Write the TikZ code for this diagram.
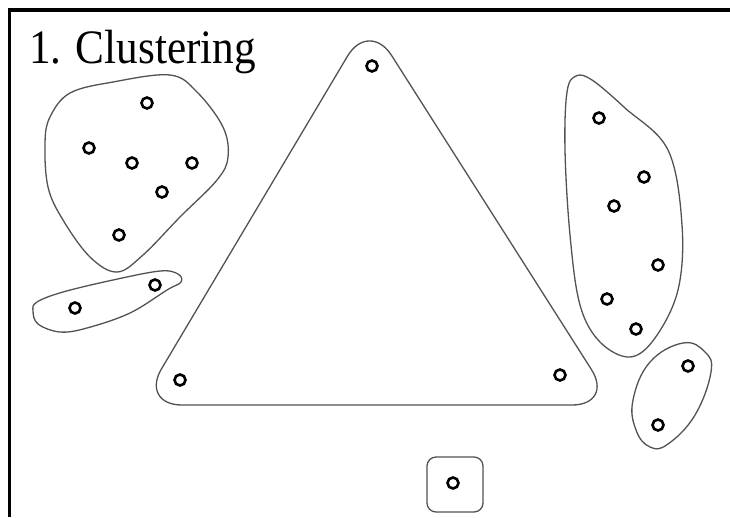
\documentclass[tikz,border=0pt]{standalone}
\usepackage{fontspec}
\setmainfont{Liberation Serif}
\begin{document}
\begin{tikzpicture}[x=1pt,y=-1pt,
  pt/.style={circle,draw=black,line width=2.6pt,inner sep=0pt,minimum size=11pt,fill=white},
  hull/.style={draw=black!68,line width=1.3pt},
  frame/.style={line width=3.5pt,draw=black}]
\useasboundingbox (0,0) rectangle (730,517);
% frame
\draw[frame] (730,10) -- (9.5,10) -- (9.5,517);
% title
\node[anchor=base west,inner sep=0pt,xscale=0.9,font=\fontsize{48}{52}\selectfont] (title) at (29,63) {1. Clustering};
% hulls
\draw[hull] plot[smooth cycle,tension=0.6] coordinates{(170,75) (197,92) (223,127) (228,157) (217,180) (180,217) (143,255) (117,272) (90,257) (63,220) (48,187) (45,143) (50,117) (70,93) (113,82)};
\draw[hull] plot[smooth cycle,tension=0.6] coordinates{(33,311) (37,302) (63,292) (113,280) (160,271) (178,274) (181,282) (167,290) (130,313) (87,328) (60,332) (38,324)};
\draw[hull,rounded corners=42pt] (369,20) -- (614,405) -- (140,405) -- cycle;
\draw[hull] plot[smooth cycle,tension=0.6] coordinates{(567,92) (576,76) (592,80) (625,108) (668,150) (682,225) (678,290) (655,338) (630,357) (600,342) (580,305) (570,235) (565,150)};
\draw[hull] plot[smooth cycle,tension=0.7] coordinates{(683,343) (705,352) (711,372) (695,415) (668,444) (650,447) (636,430) (633,400) (650,362)};
\draw[hull,rounded corners=9pt] (427,457) rectangle (483,512);
% points
\node[pt] (a1) at (147,103) {};
\node[pt] (a2) at (89,148) {};
\node[pt] (a3) at (132,163) {};
\node[pt] (a4) at (192,163) {};
\node[pt] (a5) at (162,192) {};
\node[pt] (a6) at (119,235) {};
\node[pt] (b1) at (75,308) {};
\node[pt] (b2) at (155,285) {};
\node[pt] (c1) at (372,66) {};
\node[pt] (c2) at (180,380) {};
\node[pt] (c3) at (560,375) {};
\node[pt] (d1) at (599,118) {};
\node[pt] (d2) at (644,177) {};
\node[pt] (d3) at (614,206) {};
\node[pt] (d4) at (658,265) {};
\node[pt] (d5) at (607,299) {};
\node[pt] (d6) at (636,329) {};
\node[pt] (e1) at (688,366) {};
\node[pt] (e2) at (658,425) {};
\node[pt] (f1) at (453,483) {};
\end{tikzpicture}
\end{document}
